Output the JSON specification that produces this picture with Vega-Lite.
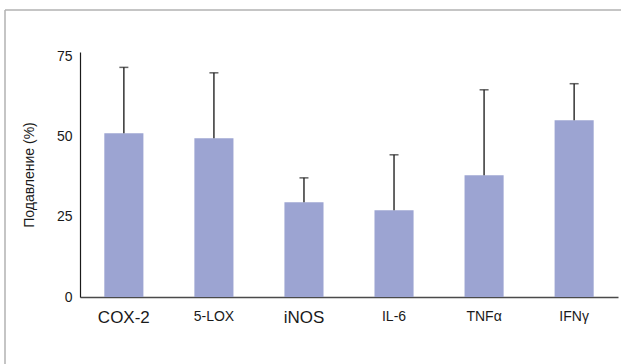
{
  "$schema": "https://vega.github.io/schema/vega-lite/v6.json",
  "autosize": {"type": "none"},
  "padding": {"left": 5, "top": 10, "right": 0, "bottom": 0},
  "width": 616,
  "height": 354,
  "data": {
    "values": [
      {"marker": "COX-2", "mean": 51.1, "upper": 71.7},
      {"marker": "5-LOX", "mean": 49.6, "upper": 70.0},
      {"marker": "iNOS", "mean": 29.6, "upper": 37.2},
      {"marker": "IL-6", "mean": 27.1, "upper": 44.4},
      {"marker": "TNFα", "mean": 38.0, "upper": 64.7},
      {"marker": "IFNγ", "mean": 55.2, "upper": 66.6}
    ]
  },
  "encoding": {
    "x": {
      "field": "marker",
      "type": "nominal",
      "sort": null,
      "scale": {"range": [75, 613], "paddingInner": 0.566, "paddingOuter": 0.27},
      "axis": {
        "title": null,
        "orient": "bottom",
        "offset": -67,
        "labelAngle": 0,
        "ticks": false,
        "labelPadding": 12,
        "labelFont": "Liberation Sans",
        "labelColor": "#1a1a1a",
        "labelFontSize": {"condition": {"test": "datum.value === 'COX-2' || datum.value === 'iNOS'", "value": 17}, "value": 14},
        "domainColor": "#4a4a4a",
        "domainWidth": 1.5,
        "grid": false
      }
    }
  },
  "layer": [
    {
      "mark": {"type": "bar", "color": "#9ca4d2"},
      "encoding": {
        "y": {
          "field": "mean",
          "type": "quantitative",
          "scale": {"domain": [0, 76.5], "range": [287, 42], "nice": false},
          "axis": {
            "title": "Подавление (%)",
            "orient": "left",
            "offset": -75,
            "values": [0, 25, 50, 75],
            "ticks": false,
            "grid": false,
            "labelPadding": 8,
            "labelFont": "Liberation Sans",
            "labelFontSize": 14,
            "labelColor": "#1a1a1a",
            "domainColor": "#1a1a1a",
            "domainWidth": 1.2,
            "titleFont": "Liberation Sans",
            "titleFontSize": 14,
            "titleFontWeight": "normal",
            "titleColor": "#1a1a1a",
            "titlePadding": 20
          }
        }
      }
    },
    {
      "mark": {"type": "rule", "color": "#333333", "strokeWidth": 1.5},
      "encoding": {
        "y": {"field": "mean", "type": "quantitative"},
        "y2": {"field": "upper"}
      }
    },
    {
      "mark": {"type": "tick", "color": "#222222", "size": 9, "thickness": 1.5, "orient": "horizontal"},
      "encoding": {
        "y": {"field": "upper", "type": "quantitative"}
      }
    }
  ],
  "config": {
    "view": {"stroke": "#b3b3b3", "strokeWidth": 1.5, "strokeDash": [616, 970, 354, 0]},
    "background": "white"
  }
}
